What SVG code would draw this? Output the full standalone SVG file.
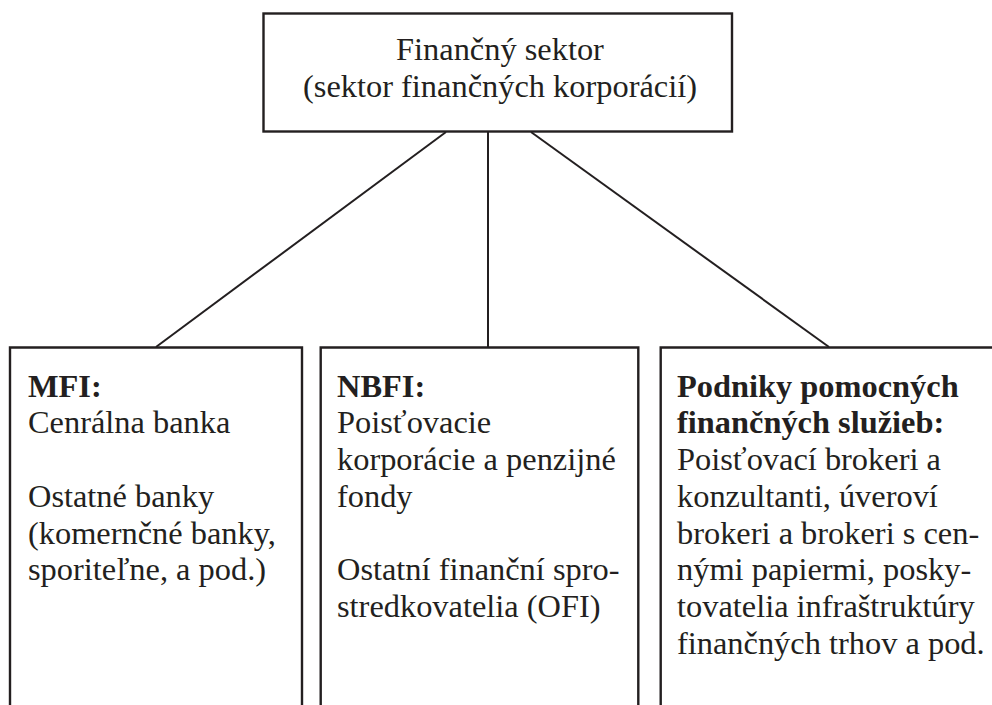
<svg xmlns="http://www.w3.org/2000/svg" width="992" height="705" viewBox="0 0 992 705" font-family="Liberation Serif, Times New Roman, serif">
<style>
.box{fill:none;stroke:#231f20;stroke-width:2.4}
.con{fill:none;stroke:#231f20;stroke-width:2}
.t{font-size:32.4px;fill:#231f20}
.b{font-weight:bold}
.c{text-anchor:middle}
</style>
<rect width="992" height="705" fill="#fff"/>
<g id="connectors">
<line class="con" x1="446" y1="132" x2="156" y2="347"/>
<line class="con" x1="488" y1="132" x2="488" y2="347"/>
<line class="con" x1="531" y1="132" x2="829" y2="347"/>
</g>
<g id="top" class="t">
<rect class="box" x="263.5" y="13.5" width="468.5" height="118"/>
<text class="c" x="500" y="60">Finančný sektor</text>
<text class="c" x="500" y="97">(sektor finančných korporácií)</text>
</g>
<g id="mfi" class="t">
<path class="box" d="M10,706 V347.5 H302 V706"/>
<text x="28" y="396.7" class="b">MFI:</text>
<text x="28" y="433.4">Cenrálna banka</text>
<text x="28" y="506.8">Ostatné banky</text>
<text x="28" y="543.5">(komernčné banky,</text>
<text x="28" y="580.2">sporiteľne, a pod.)</text>
</g>
<g id="nbfi" class="t">
<path class="box" d="M320.7,706 V347.5 H638.3 V706"/>
<text x="337" y="396.7" class="b">NBFI:</text>
<text x="337" y="433.4">Poisťovacie</text>
<text x="337" y="470.1">korporácie a penzijné</text>
<text x="337" y="506.8">fondy</text>
<text x="337" y="580.2">Ostatní finanční spro-</text>
<text x="337" y="616.9">stredkovatelia (OFI)</text>
</g>
<g id="aux" class="t">
<path class="box" d="M660.7,706 V347.5 H993"/>
<text x="677" y="396.7" class="b">Podniky pomocných</text>
<text x="677" y="433.4" class="b">finančných služieb:</text>
<text x="677" y="470.1">Poisťovací brokeri a</text>
<text x="677" y="506.8">konzultanti, úveroví</text>
<text x="677" y="543.5">brokeri a brokeri s cen-</text>
<text x="677" y="580.2">nými papiermi, posky-</text>
<text x="677" y="616.9">tovatelia infraštruktúry</text>
<text x="677" y="653.6">finančných trhov a pod.</text>
</g>
</svg>
